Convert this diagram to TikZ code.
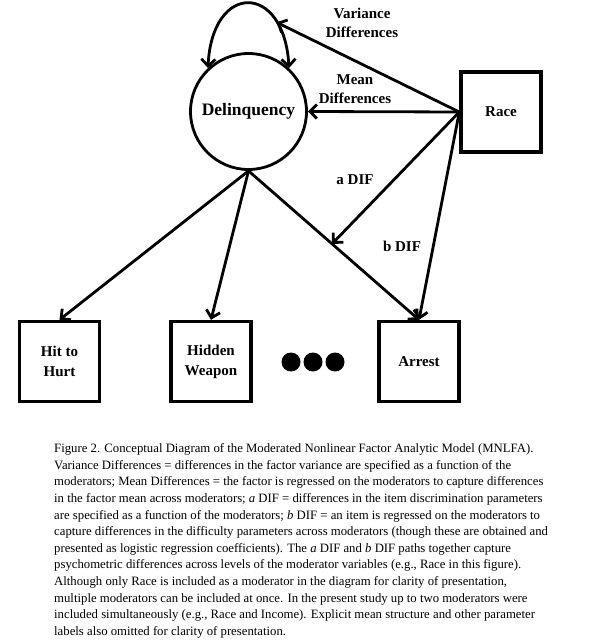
\documentclass[tikz,border=0pt]{standalone}
\usepackage{fontspec}
\setmainfont{Liberation Serif}
\usetikzlibrary{arrows.meta}
\usetikzlibrary{positioning}
\tikzset{
  path line/.style = {
    draw = black,
    line width = 2.8pt
  },
  % path style with an open barb at the end
  arr/.style = {
    path line,
    -{Straight Barb[length=7pt,width=14pt]}
  },
  % path style with a barb at both ends
  darr/.style = {
    path line,
    {Straight Barb[length=7pt,width=14pt]}-{Straight Barb[length=7pt,width=14pt]}
  }
}
\tikzset{
  var node/.style = {
    draw = black,
    line width = 3.4pt,
    align = center,
    inner sep = 0,
    font = \fontsize{15}{20}\selectfont\bfseries
  },
  % latent factor
  factor/.style = {
    var node,
    circle,
    line width = 2.8pt,
    minimum size = 116pt,
    font = \fontsize{17.5}{20}\selectfont\bfseries
  },
  % observed item or moderator
  item/.style = {
    var node,
    rectangle,
    minimum width = 80pt,
    minimum height = 80pt
  },
  path label/.style = {
    align = center,
    font = \fontsize{15}{19}\selectfont\bfseries
  },
  more dot/.style = {
    circle,
    fill = black,
    minimum size = 19pt,
    inner sep = 0
  },
  caption/.style = {
    align = left,
    inner sep = 0,
    font = \fontsize{12.75}{16.6}\selectfont
  }
}
\begin{document}
\begin{tikzpicture}[x=1pt,y=-1pt]
    \useasboundingbox (0,0) rectangle (595,644);
    \node[factor] (delinq) at (248.5,111.5) {Delinquency};
    \node[item] (race) at (501,112) {Race};
    \node[item] (hit) at (59.5,361.5) {Hit to\\Hurt};
    \node[item] (hidden) at (211,361.5) {Hidden\\Weapon};
    \node[item] (arrest) at (419,361.5) {Arrest};
    \foreach \x [count=\i] in {291,313,335}
      \node[more dot] (dot\i) at (\x,362) {};

    \node[path label] (var-label) at (362,23) {Variance\\Differences};
    \node[path label] (mean-label) at (355,89.5) {Mean\\Differences};
    \node[path label] (a-label) at (355,180) {a DIF};
    \node[path label] (b-label) at (402,246) {b DIF};

    \draw[darr] (delinq.133) .. controls (212,-18) and (284,-18) .. (delinq.47)
      coordinate[pos=0.77] (var-end);
    \draw[arr] (race.west) -- (var-end);
    \draw[arr] (race.west) -- (delinq.east);
    \draw[arr] (delinq.south) -- (hit.north);
    \draw[arr] (delinq.south) -- (hidden.north);
    \draw[arr] (delinq.south) -- coordinate[pos=0.49] (adif-end) (arrest.north);
    \draw[arr] (race.west) -- (adif-end);
    \draw[arr] (race.west) -- (arrest.north);

    \node[caption, anchor=north west] (caption) at (54,443.5) {Figure 2. Conceptual Diagram of the Moderated Nonlinear Factor Analytic Model (MNLFA).\\
Variance Differences = differences in the factor variance are specified as a function of the\\
moderators; Mean Differences = the factor is regressed on the moderators to capture differences\\
in the factor mean across moderators; \textit{a} DIF = differences in the item discrimination parameters\\
are specified as a function of the moderators; \textit{b} DIF = an item is regressed on the moderators to\\
capture differences in the difficulty parameters across moderators (though these are obtained and\\
presented as logistic regression coefficients). The \textit{a} DIF and \textit{b} DIF paths together capture\\
psychometric differences across levels of the moderator variables (e.g., Race in this figure).\\
Although only Race is included as a moderator in the diagram for clarity of presentation,\\
multiple moderators can be included at once. In the present study up to two moderators were\\
included simultaneously (e.g., Race and Income). Explicit mean structure and other parameter\\
labels also omitted for clarity of presentation.};
\end{tikzpicture}
\end{document}
